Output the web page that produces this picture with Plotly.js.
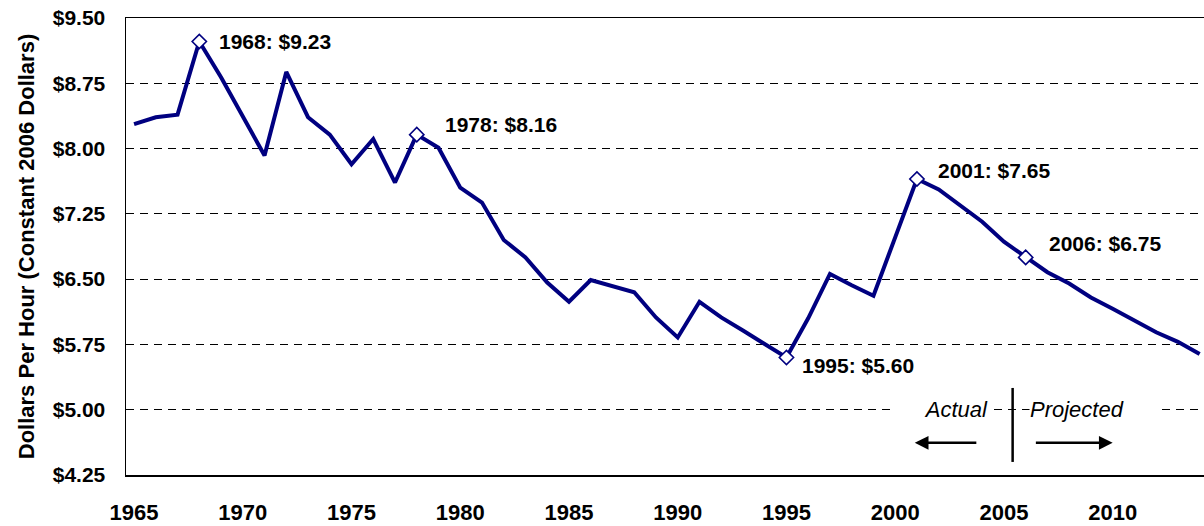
<!DOCTYPE html>
<html>
<head>
<meta charset="utf-8">
<script src="https://cdn.plot.ly/plotly-3.0.1.min.js"></script>
<style>html,body{margin:0;padding:0;background:#fff;}#chart{width:1204px;height:526px;}</style>
</head>
<body>
<div id="chart"></div>
<script>
// ---- data ----
var years = [1965,1966,1967,1968,1969,1970,1971,1972,1973,1974,1975,1976,1977,1978,1979,1980,1981,1982,1983,1984,1985,1986,1987,1988,1989,1990,1991,1992,1993,1994,1995,1996,1997,1998,1999,2000,2001,2002,2003,2004,2005,2006,2007,2008,2009,2010,2011,2012,2013,2014];
var wage = [8.28,8.36,8.39,9.23,8.82,8.36,7.92,8.88,8.36,8.16,7.82,8.11,7.61,8.16,8.01,7.55,7.38,6.95,6.75,6.46,6.24,6.49,6.42,6.35,6.06,5.83,6.24,6.06,5.91,5.76,5.60,6.05,6.56,6.43,6.31,6.98,7.65,7.53,7.34,7.16,6.93,6.75,6.58,6.45,6.29,6.16,6.02,5.89,5.78,5.64];
var highlightYears = [1968,1978,1995,2001,2006];
var xTickVals = [1965,1970,1975,1980,1985,1990,1995,2000,2005,2010];
var yTickVals = [4.25,5.00,5.75,6.50,7.25,8.00,8.75,9.50];
var yTickText = ["$4.25","$5.00","$5.75","$6.50","$7.25","$8.00","$8.75","$9.50"];
var yTitle = "Dollars Per Hour (Constant 2006 Dollars)";
var actualLabel = "Actual";
var projectedLabel = "Projected";

// ---- styling ----
var NAVY = "#000080";
var FONT = "'Liberation Sans', Arial, sans-serif";
// label offsets in px [xshift, yshift] for each highlighted point
var labelShift = [[18,0],[26,10],[14,-8],[19,9],[21,14]];

var hlVals = highlightYears.map(function(y){ return wage[years.indexOf(y)]; });

var traces = [
  {x: years, y: wage, type: "scatter", mode: "lines",
   line: {color: NAVY, width: 4}, hoverinfo: "skip"},
  {x: highlightYears, y: hlVals, type: "scatter", mode: "markers",
   marker: {symbol: "diamond", size: 11, color: "#ffffff", line: {color: NAVY, width: 1.6}},
   hoverinfo: "skip"}
];

var annotations = highlightYears.map(function(yr, i){
  return {x: yr, y: hlVals[i], xref: "x", yref: "y",
    text: yr + ": $" + hlVals[i].toFixed(2), showarrow: false,
    xanchor: "left", yanchor: "middle",
    xshift: labelShift[i][0], yshift: labelShift[i][1],
    font: {family: FONT, size: 21, color: "#000", weight: "bold"}};
});

annotations.push({x: 2004.3, y: 5.0, xref: "x", yref: "y", text: actualLabel,
  showarrow: false, xanchor: "right", yanchor: "middle", bgcolor: "#ffffff",
  width: 96, align: "right", borderpad: 0,
  font: {family: FONT, size: 22, color: "#000", style: "italic"}});
annotations.push({x: 2006.15, y: 5.0, xref: "x", yref: "y", text: projectedLabel,
  showarrow: false, xanchor: "left", yanchor: "middle", bgcolor: "#ffffff",
  width: 126, align: "left", borderpad: 0,
  font: {family: FONT, size: 22, color: "#000", style: "italic"}});
// arrows
annotations.push({x: 2000.9, y: 4.62, ax: 2003.8, ay: 4.62, xref: "x", yref: "y",
  axref: "x", ayref: "y", text: "", showarrow: true, arrowhead: 2, arrowsize: 1.1,
  arrowwidth: 2.5, arrowcolor: "#000"});
annotations.push({x: 2010.0, y: 4.62, ax: 2006.4, ay: 4.62, xref: "x", yref: "y",
  axref: "x", ayref: "y", text: "", showarrow: true, arrowhead: 2, arrowsize: 1.1,
  arrowwidth: 2.5, arrowcolor: "#000"});

var layout = {
  width: 1204, height: 526,
  margin: {l: 126, r: 0, t: 18, b: 51},
  paper_bgcolor: "#ffffff", plot_bgcolor: "#ffffff",
  showlegend: false,
  font: {family: FONT, color: "#000"},
  xaxis: {range: [1964.63, 2014.2], showgrid: false, zeroline: false,
    showline: true, linecolor: "#000", linewidth: 1.5, mirror: true,
    tickmode: "array", tickvals: xTickVals, ticks: "",
    ticklabelstandoff: 17,
    tickfont: {family: FONT, size: 22, color: "#000", weight: "bold"}},
  yaxis: {range: [4.25, 9.5], zeroline: false,
    showline: true, linecolor: "#000", linewidth: 1.5,
    showgrid: true, gridcolor: "#000", gridwidth: 1, griddash: "8px,6px",
    tickmode: "array", tickvals: yTickVals, ticktext: yTickText, ticks: "",
    ticklabelstandoff: 15,
    tickfont: {family: FONT, size: 21, color: "#000", weight: "bold"},
    title: {text: yTitle, standoff: 12,
      font: {family: FONT, size: 22, color: "#000", weight: "bold"}}},
  shapes: [{type: "line", xref: "x", yref: "y", x0: 2005.4, x1: 2005.4, y0: 4.40, y1: 5.25,
    line: {color: "#000", width: 2.5}}],
  annotations: annotations
};

Plotly.newPlot("chart", traces, layout, {displayModeBar: false, staticPlot: true});
</script>
</body>
</html>
